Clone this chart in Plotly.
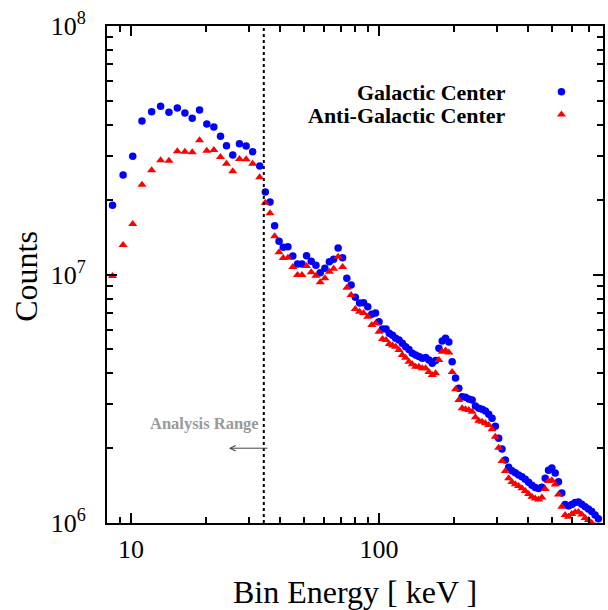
import math
import plotly.graph_objects as go

# ---- data ----
energy_kev = [8.42, 9.29, 10.16, 11.07, 12.11, 13.16, 14.22, 15.37, 16.49, 17.65,
              18.89, 20.21, 21.57, 22.95, 24.26, 25.71, 27.36, 29.11, 30.94, 33.02,
              34.79, 36.34, 37.93, 39.51, 41.11, 42.91, 44.9, 46.93, 48.89, 51.02,
              53.29, 55.66, 57.92, 60.48, 63.05, 65.61, 68.41, 71.32, 74.16, 77.17,
              80.22, 83.48, 86.63, 90.07, 93.46, 96.8, 100.0, 103.3, 106.7, 110.0,
              113.3, 116.7, 120.4, 124.1, 128.0, 132.0, 136.2, 140.4, 144.8, 149.4,
              154.1, 158.9, 163.9, 169.0, 174.3, 179.8, 185.4, 191.2, 197.2, 203.4,
              209.7, 216.3, 223.1, 230.1, 237.3, 244.7, 252.4, 260.3, 268.5, 276.9,
              285.6, 294.5, 303.7, 313.2, 323.1, 333.2, 343.6, 354.4, 365.5, 376.9,
              388.7, 400.9, 413.5, 426.4, 439.8, 453.6, 467.8, 482.5, 497.6, 513.2,
              529.2, 545.8, 562.9, 580.6, 598.7, 617.5, 636.9, 656.8, 677.4, 698.6,
              720.5, 743.1, 766.4]

gc_counts = [1.90e7, 2.515e7, 2.99e7, 4.146e7, 4.52e7, 4.752e7, 4.495e7, 4.677e7, 4.466e7, 4.252e7,
             4.592e7, 4.032e7, 3.923e7, 3.599e7, 3.299e7, 3.027e7, 3.361e7, 3.29e7, 3.121e7, 2.733e7,
             2.148e7, 1.958e7, 1.572e7, 1.361e7, 1.287e7, 1.294e7, 1.187e7, 1.102e7, 1.102e7, 1.19e7,
             1.13e7, 1.089e7, 1.017e7, 1.059e7, 1.126e7, 1.151e7, 1.279e7, 1.168e7, 9.654e6, 9.073e6,
             8.096e6, 7.678e6, 7.70e6, 7.42e6, 6.917e6, 7.0e6, 6.458e6, 6.036e6, 6.036e6, 5.80e6,
             5.693e6, 5.538e6, 5.45e6, 5.287e6, 5.123e6, 4.991e6, 4.818e6, 4.744e6, 4.677e6, 4.60e6,
             4.634e6, 4.527e6, 4.391e6, 4.506e6, 5.047e6, 5.40e6, 5.538e6, 5.35e6, 4.452e6, 3.833e6,
             3.485e6, 3.224e6, 3.205e6, 3.155e6, 3.126e6, 2.956e6, 2.894e6, 2.868e6, 2.823e6, 2.738e6,
             2.638e6, 2.449e6, 2.192e6, 1.985e6, 1.792e6, 1.675e6, 1.623e6, 1.593e6, 1.561e6, 1.536e6,
             1.499e6, 1.458e6, 1.418e6, 1.39e6, 1.376e6, 1.392e6, 1.513e6, 1.63e6, 1.665e6, 1.589e6,
             1.466e6, 1.32e6, 1.187e6, 1.171e6, 1.187e6, 1.209e6, 1.215e6, 1.189e6, 1.163e6, 1.138e6,
             1.113e6, 1.077e6, 1.041e6]

agc_counts = [9.863e6, 1.314e7, 1.597e7, 2.298e7, 2.627e7, 2.881e7, 2.871e7, 3.132e7, 3.121e7, 3.104e7,
              3.467e7, 3.15e7, 3.17e7, 2.971e7, 2.792e7, 2.602e7, 2.916e7, 2.908e7, 2.792e7, 2.462e7,
              1.945e7, 1.764e7, 1.425e7, 1.229e7, 1.165e7, 1.168e7, 1.072e7, 9.954e6, 9.954e6, 1.082e7,
              1.021e7, 9.89e6, 9.302e6, 9.654e6, 1.026e7, 1.055e7, 1.179e7, 1.072e7, 8.848e6, 8.271e6,
              7.264e6, 7.084e6, 7.0e6, 6.764e6, 6.264e6, 6.363e6, 5.886e6, 5.5e6, 5.45e6, 5.252e6,
              5.18e6, 5.123e6, 4.969e6, 4.744e6, 4.627e6, 4.458e6, 4.351e6, 4.256e6, 4.256e6, 4.193e6,
              4.193e6, 4.052e6, 3.941e6, 4.004e6, 4.527e6, 4.89e6, 4.946e6, 4.854e6, 4.052e6, 3.451e6,
              3.126e6, 2.894e6, 2.868e6, 2.849e6, 2.805e6, 2.663e6, 2.58e6, 2.557e6, 2.519e6, 2.48e6,
              2.383e6, 2.225e6, 2.009e6, 1.776e6, 1.619e6, 1.513e6, 1.462e6, 1.431e6, 1.409e6, 1.379e6,
              1.345e6, 1.308e6, 1.276e6, 1.255e6, 1.243e6, 1.266e6, 1.37e6, 1.476e6, 1.485e6, 1.429e6,
              1.302e6, 1.163e6, 1.077e6, 1.06e6, 1.087e6, 1.104e6, 1.107e6, 1.082e6, 1.047e6, 1.028e6,
              1.0e6, 9.72e5, 9.37e5]

series_names = ["Galactic Center", "Anti-Galactic Center"]

x_range = [8, 800]
y_range = [1e6, 1e8]
x_tick_vals = [10, 100]
x_tick_text = ["10", "100"]
x_minor_vals = [9, 20, 30, 40, 50, 60, 70, 80, 90, 200, 300, 400, 500, 600, 700]
y_tick_vals = [1e6, 1e7, 1e8]
y_tick_text = ["10<sup>6</sup>", "10<sup>7</sup>", "10<sup>8</sup>"]
y_minor_vals = [2e6, 3e6, 4e6, 5e6, 6e6, 7e6, 8e6, 9e6,
                2e7, 3e7, 4e7, 5e7, 6e7, 7e7, 8e7, 9e7]

analysis_cut_kev = 34.3
arrow_tail_kev = 36.0
arrow_head_kev = 24.8
arrow_counts = 2.0e6

SERIF = "Liberation Serif, Times New Roman, serif"
BLUE = "#0000ff"
RED = "#ff0000"

fig = go.Figure()

fig.add_trace(go.Scatter(
    x=energy_kev, y=gc_counts, mode="markers", name=series_names[0],
    marker=dict(symbol="circle", size=7.5, color=BLUE, line=dict(width=0)),
    showlegend=False))
fig.add_trace(go.Scatter(
    x=energy_kev, y=agc_counts, mode="markers", name=series_names[1],
    marker=dict(symbol="triangle-up", size=8, color=RED, line=dict(width=0)),
    showlegend=False))

# vertical dotted analysis-range boundary
fig.add_trace(go.Scatter(
    x=[analysis_cut_kev, analysis_cut_kev], y=y_range, mode="lines",
    line=dict(color="black", width=2, dash="dot"),
    showlegend=False, hoverinfo="skip"))

# legend keys (text left, symbol right, like the reference) on an overlay axis
legend_key_x = 0.9162
legend_rows_y = [0.8677, 0.8218]
legend_text_x = 0.8077
legend_text_y = [0.8656, 0.8209]
fig.add_trace(go.Scatter(
    x=[legend_key_x], y=[legend_rows_y[0]], xaxis="x2", yaxis="y2", mode="markers",
    marker=dict(symbol="circle", size=7.5, color=BLUE), showlegend=False, hoverinfo="skip"))
fig.add_trace(go.Scatter(
    x=[legend_key_x], y=[legend_rows_y[1]], xaxis="x2", yaxis="y2", mode="markers",
    marker=dict(symbol="triangle-up", size=8, color=RED), showlegend=False, hoverinfo="skip"))

annotations = []
for name, ty in zip(series_names, legend_text_y):
    annotations.append(dict(
        text="<b>%s</b>" % name, x=legend_text_x, y=ty, xref="paper", yref="paper",
        xanchor="right", yanchor="middle", showarrow=False,
        font=dict(family=SERIF, size=22, color="black")))

annotations.append(dict(
    text="<b>Analysis Range</b>", x=0.3102, y=0.2009, xref="paper", yref="paper",
    xanchor="right", yanchor="middle", showarrow=False,
    font=dict(family=SERIF, size=16.5, color="#9a9a9a")))

annotations.append(dict(
    text="", x=math.log10(arrow_head_kev), y=math.log10(arrow_counts),
    ax=math.log10(arrow_tail_kev), ay=math.log10(arrow_counts),
    xref="x", yref="y", axref="x", ayref="y", showarrow=True,
    arrowhead=5, arrowsize=1.1, arrowwidth=1, arrowcolor="#444444"))

# axis titles
annotations.append(dict(
    text="Bin Energy [ keV ]", x=0.5, y=-0.1385, xref="paper", yref="paper",
    xanchor="center", yanchor="middle", showarrow=False,
    font=dict(family=SERIF, size=32, color="black")))
annotations.append(dict(
    text="Counts", x=-0.1634, y=0.4973, xref="paper", yref="paper",
    xanchor="center", yanchor="middle", showarrow=False, textangle=-90,
    font=dict(family=SERIF, size=32, color="black")))

axis_common = dict(
    type="log", showgrid=False, zeroline=False,
    showline=True, linecolor="black", linewidth=2, mirror="ticks",
    ticks="inside", ticklen=10, tickwidth=1.5, tickcolor="black",
    tickfont=dict(family=SERIF, size=26, color="black"),
)

fig.update_layout(
    width=608, height=610,
    margin=dict(l=107, r=3, t=26, b=87),
    paper_bgcolor="white", plot_bgcolor="white",
    showlegend=False,
    xaxis=dict(
        **axis_common,
        range=[math.log10(x_range[0]), math.log10(x_range[1])],
        tickmode="array", tickvals=x_tick_vals, ticktext=x_tick_text,
        ticklabelstandoff=2,
        minor=dict(ticks="inside", ticklen=6, tickwidth=1.5, tickcolor="black",
                   tickvals=x_minor_vals, showgrid=False),
    ),
    yaxis=dict(
        **axis_common,
        range=[math.log10(y_range[0]), math.log10(y_range[1])],
        tickmode="array", tickvals=y_tick_vals, ticktext=y_tick_text,
        ticklabelstandoff=14,
        minor=dict(ticks="inside", ticklen=6, tickwidth=1.5, tickcolor="black",
                   tickvals=y_minor_vals, showgrid=False),
    ),
    xaxis2=dict(overlaying="x", range=[0, 1], visible=False, fixedrange=True),
    yaxis2=dict(overlaying="y", range=[0, 1], visible=False, fixedrange=True),
    annotations=annotations,
)

fig.write_html("out.html")
